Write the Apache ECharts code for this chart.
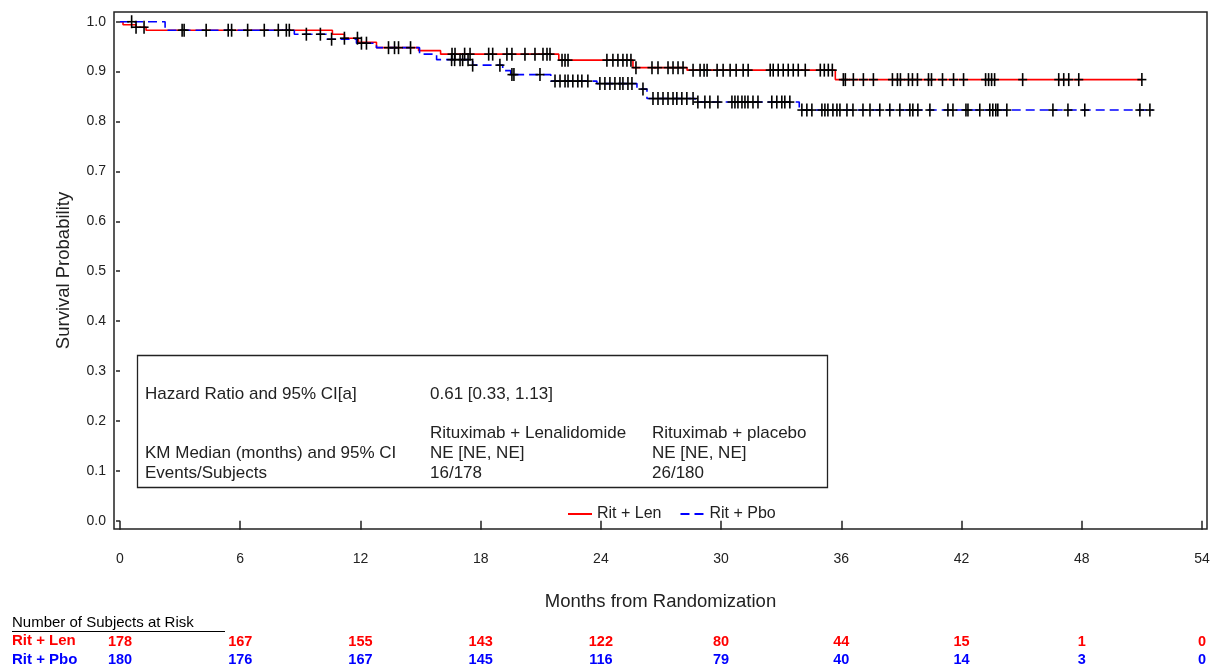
<!DOCTYPE html>
<html>
<head>
<meta charset="utf-8">
<script src="https://cdn.jsdelivr.net/npm/echarts@6/dist/echarts.min.js"></script>
<style>
  html, body { margin: 0; padding: 0; background: #fff; }
  #chart { width: 1217px; height: 667px; }
</style>
</head>
<body>
<div id="chart"></div>
<script>
// Kaplan-Meier step points (months, survival probability)
const lenTimes = [0, 0.15, 0.8, 1.3, 10.6, 11.2, 11.9, 12.8, 14.9, 16.0, 21.9, 25.6, 28.3, 35.7, 51.0];
const lenSurv  = [1.0, 0.994, 0.989, 0.983, 0.975, 0.967, 0.959, 0.948, 0.942, 0.935, 0.923, 0.908, 0.903, 0.884, 0.884];
const pboTimes = [0, 2.25, 8.7, 10.3, 11.8, 12.8, 14.95, 15.8, 17.6, 19.1, 19.5, 21.5, 23.8, 25.8, 26.3, 28.7, 33.9, 51.55];
const pboSurv  = [1.0, 0.983, 0.975, 0.965, 0.957, 0.948, 0.935, 0.924, 0.913, 0.902, 0.894, 0.881, 0.876, 0.865, 0.846, 0.839, 0.823, 0.823];

// Censoring times (months)
const lenCensor = [0.8, 1.2, 3.1, 4.3, 5.4, 7.2, 8.3, 11.2, 11.85, 13.4, 13.7, 14.5,
  16.57, 16.72, 17.2, 17.47, 18.4, 18.6, 19.31, 19.56, 20.21, 20.71, 21.11, 21.31, 21.46,
  22.06, 22.21, 22.36, 24.3, 24.6, 24.85, 25.1, 25.3, 25.5, 25.75, 26.55, 26.85, 27.35,
  27.6, 27.85, 28.1, 28.6, 28.95, 29.15, 29.3, 29.8, 30.1, 30.45, 30.75, 31.1, 31.35,
  32.45, 32.6, 32.85, 33.1, 33.35, 33.6, 33.85, 34.2, 34.95, 35.15, 35.35, 35.55,
  36.1, 36.2, 36.6, 37.1, 37.6, 38.55, 38.8, 38.95, 39.35, 39.55, 39.8, 40.35, 40.5,
  41.05, 41.6, 42.1, 43.2, 43.35, 43.5, 43.65, 45.05, 46.85, 47.1, 47.35, 47.85, 51.0];
const pboCensor = [0.58, 3.2, 5.57, 6.37, 7.9, 8.45, 9.3, 10.0, 10.56, 12.05, 12.3, 13.9,
  16.55, 16.7, 16.97, 17.1, 17.37, 17.6, 18.96, 19.56, 19.66, 20.96, 21.71, 21.96, 22.21,
  22.36, 22.6, 22.85, 23.05, 23.35, 23.95, 24.2, 24.45, 24.7, 24.95, 25.1, 25.35, 25.55,
  26.1, 26.6, 26.85, 27.1, 27.35, 27.6, 27.79, 28.04, 28.29, 28.6, 28.84, 29.19, 29.44,
  29.84, 30.54, 30.69, 30.84, 31.04, 31.19, 31.34, 31.59, 31.84, 32.53, 32.78, 33.03,
  33.18, 33.43, 34.03, 34.28, 34.53, 35.03, 35.18, 35.33, 35.58, 35.78, 35.93, 36.28,
  36.58, 37.08, 37.43, 37.92, 38.42, 38.92, 39.42, 39.57, 39.82, 40.42, 41.32, 41.57,
  42.22, 42.32, 42.91, 43.41, 43.56, 43.71, 43.81, 44.26, 46.56, 47.31, 48.15, 50.9, 51.4];

// Axis ticks and number-at-risk table
const xTicks = [0, 6, 12, 18, 24, 30, 36, 42, 48, 54];
const yTicks = [0, 0.1, 0.2, 0.3, 0.4, 0.5, 0.6, 0.7, 0.8, 0.9, 1.0];
const riskLen = [178, 167, 155, 143, 122, 80, 44, 15, 1, 0];
const riskPbo = [180, 176, 167, 145, 116, 79, 40, 14, 3, 0];

const armNames = ['Rit + Len', 'Rit + Pbo'];
const RED = '#ff0000', BLUE = '#0000ff', INK = '#222';
const FONT = "'Liberation Sans', Arial, sans-serif";

function stepValue(times, surv, t) {
  let v = surv[0];
  for (let i = 0; i < times.length; i++) { if (times[i] <= t) v = surv[i]; }
  return v;
}
const lenLine = lenTimes.map((t, i) => [t, lenSurv[i]]);
const pboLine = pboTimes.map((t, i) => [t, pboSurv[i]]);
const lenMarks = lenCensor.map(t => [t, stepValue(lenTimes, lenSurv, t)]);
const pboMarks = pboCensor.map(t => [t, stepValue(pboTimes, pboSurv, t)]);

// "+" censor glyph placed through the axis scales
function censorMark(params, api) {
  const p = api.coord([api.value(0), api.value(1)]);
  const st = { stroke: '#000', lineWidth: 1.6 };
  return {
    type: 'group',
    children: [
      { type: 'line', shape: { x1: p[0], y1: p[1] - 6.5, x2: p[0], y2: p[1] + 6.5 }, style: st },
      { type: 'line', shape: { x1: p[0] - 4.5, y1: p[1], x2: p[0] + 4.5, y2: p[1] }, style: st }
    ]
  };
}

const L = 114, R = 10;
const xRange = { min: -0.3, max: 54.25 };

function riskAxis(idx, values, color) {
  return {
    type: 'value', gridIndex: idx, min: xRange.min, max: xRange.max,
    position: 'bottom',
    axisLine: { show: false }, axisTick: { show: false }, splitLine: { show: false },
    axisLabel: {
      customValues: xTicks, margin: 0, color: color, fontFamily: FONT, fontSize: 14.5,
      fontWeight: 'bold',
      formatter: v => { const i = xTicks.indexOf(Math.round(v)); return i >= 0 ? String(values[i]) : ''; }
    }
  };
}

function boxText(x, y, s) {
  return { type: 'text', left: x, top: y, style: { text: s, font: '17px ' + FONT, fill: INK } };
}

const chart = echarts.init(document.getElementById('chart'), null, { renderer: 'canvas' });
chart.setOption({
  animation: false,
  textStyle: { fontFamily: FONT },
  grid: [
    { left: L, right: R, top: 12, bottom: 138, show: true, borderColor: INK, borderWidth: 1.5, backgroundColor: 'transparent' },
    { left: L, right: R, top: 633, height: 1 },
    { left: L, right: R, top: 652, height: 1 }
  ],
  legend: {
    data: armNames, left: 562, top: 501, itemWidth: 24, itemHeight: 10, itemGap: 18,
    itemStyle: { color: 'transparent', borderWidth: 0 },
    textStyle: { fontFamily: FONT, fontSize: 16, color: INK }
  },
  xAxis: [
    {
      type: 'value', gridIndex: 0, min: xRange.min, max: xRange.max, offset: 4,
      name: 'Months from Randomization', nameLocation: 'middle', nameGap: 59,
      nameTextStyle: { fontFamily: FONT, fontSize: 18.5, color: INK },
      axisLine: { show: false },
      axisTick: { show: true, customValues: xTicks, length: 9, lineStyle: { color: INK, width: 1.5 } },
      axisLabel: { customValues: xTicks, margin: 19, fontFamily: FONT, fontSize: 14, color: INK },
      splitLine: { show: false }
    },
    riskAxis(1, riskLen, RED),
    riskAxis(2, riskPbo, BLUE)
  ],
  yAxis: [
    {
      type: 'value', gridIndex: 0, min: -0.0167, max: 1.0195,
      name: 'Survival Probability', nameLocation: 'middle', nameGap: 41,
      nameTextStyle: { fontFamily: FONT, fontSize: 18.5, color: INK },
      axisLine: { show: false },
      axisTick: { show: true, customValues: yTicks, length: 4, lineStyle: { color: INK, width: 1.5 } },
      axisLabel: { customValues: yTicks, margin: 8, fontFamily: FONT, fontSize: 14, color: INK,
        formatter: v => v.toFixed(1) },
      splitLine: { show: false }
    },
    { type: 'value', gridIndex: 1, show: false },
    { type: 'value', gridIndex: 2, show: false }
  ],
  series: [
    { name: armNames[0], type: 'line', step: 'end', data: lenLine, symbol: 'none',
      lineStyle: { color: RED, width: 1.6 }, itemStyle: { color: RED }, z: 3 },
    { name: armNames[1], type: 'line', step: 'end', data: pboLine, symbol: 'none',
      lineStyle: { color: BLUE, width: 1.6, type: [9, 5] }, itemStyle: { color: BLUE }, z: 3 },
    { name: 'censorLen', type: 'custom', renderItem: censorMark, data: lenMarks,
      encode: { x: 0, y: 1 }, z: 4, silent: true },
    { name: 'censorPbo', type: 'custom', renderItem: censorMark, data: pboMarks,
      encode: { x: 0, y: 1 }, z: 4, silent: true }
  ],
  graphic: [
    { type: 'rect', shape: { x: 137.5, y: 355.5, width: 690, height: 132 },
      style: { fill: 'none', stroke: INK, lineWidth: 1.3 } },
    boxText(145, 386, 'Hazard Ratio and 95% CI[a]'),
    boxText(430, 386, '0.61 [0.33, 1.13]'),
    boxText(430, 425, 'Rituximab + Lenalidomide'),
    boxText(652, 425, 'Rituximab + placebo'),
    boxText(145, 445, 'KM Median (months) and 95% CI'),
    boxText(430, 445, 'NE [NE, NE]'),
    boxText(652, 445, 'NE [NE, NE]'),
    boxText(145, 465, 'Events/Subjects'),
    boxText(430, 465, '16/178'),
    boxText(652, 465, '26/180'),
    { type: 'text', left: 12, top: 615, style: { text: 'Number of Subjects at Risk', font: '15px ' + FONT, fill: '#000' } },
    { type: 'line', shape: { x1: 12, y1: 631.5, x2: 225, y2: 631.5 }, style: { stroke: '#000', lineWidth: 1.2 } },
    { type: 'text', left: 12, top: 633, style: { text: armNames[0], font: 'bold 15px ' + FONT, fill: RED } },
    { type: 'text', left: 12, top: 652, style: { text: armNames[1], font: 'bold 15px ' + FONT, fill: BLUE } }
  ]
});
</script>
</body>
</html>
